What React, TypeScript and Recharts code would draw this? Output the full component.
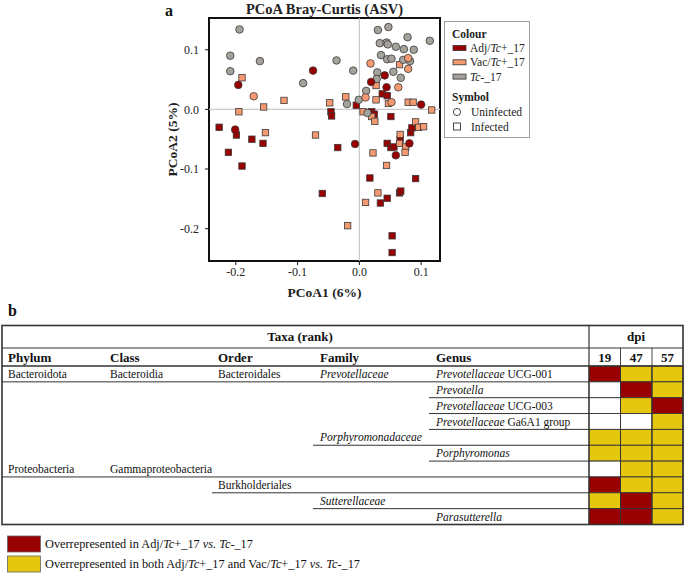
import { ScatterChart, Scatter, XAxis, YAxis, ReferenceLine, ReferenceArea, Label } from "recharts";

const FONT = "'Liberation Serif', 'Times New Roman', serif";

// PCoA coordinates, [PCoA1, PCoA2]
const adjUninfected = [
  [-0.196, 0.041], [-0.075, 0.065], [0.019, 0.046], [0.041, 0.057], [0.044, 0.037],
  [0.1, 0.008], [-0.201, -0.034], [-0.007, -0.058], [0.059, -0.077], [0.081, -0.057],
];
const adjInfected = [
  [-0.227, -0.03], [-0.212, -0.072], [-0.199, -0.043], [-0.174, -0.05], [-0.156, -0.057],
  [-0.19, -0.095], [-0.046, -0.004], [-0.045, -0.011], [-0.035, -0.064], [-0.06, -0.141],
  [-0.005, 0.007], [0.037, 0.026], [0.045, 0.023], [0.02, -0.004], [0.024, -0.008],
  [0.051, -0.012], [0.017, -0.115], [0.034, -0.157], [0.045, -0.149], [0.065, -0.14],
  [0.067, -0.137], [0.053, -0.212], [0.053, -0.24], [0.045, -0.057], [0.051, -0.064],
  [0.056, -0.063], [0.066, -0.05], [0.083, -0.039], [0.085, -0.031], [0.091, -0.116],
];
const vacUninfected = [
  [-0.171, 0.022], [0.018, 0.077], [0.01, 0.02], [0.063, 0.037], [0.052, 0.012],
  [0.079, 0.068], [0.079, 0.086],
];
const vacInfected = [
  [-0.19, 0.053], [-0.195, -0.004], [-0.155, 0.004], [-0.122, 0.015], [-0.152, -0.039],
  [-0.071, -0.043], [-0.048, 0.011], [-0.022, 0.021], [0.006, -0.004], [0.027, 0.04],
  [0.027, 0.016], [0.047, 0.01], [0.065, 0.075], [0.079, 0.012], [0.087, 0.012],
  [0.117, -0.001], [0.02, -0.012], [0.025, -0.02], [0.022, -0.073], [0.044, -0.094],
  [0.03, -0.14], [0.01, -0.156], [-0.019, -0.195], [0.066, -0.042], [0.065, -0.057],
  [0.075, -0.063], [0.074, -0.072], [0.091, -0.021], [0.096, -0.03], [0.104, -0.029],
];
const ctrlUninfected = [
  [-0.194, 0.134], [-0.209, 0.09], [-0.209, 0.064], [-0.161, 0.081], [-0.091, 0.044],
  [-0.037, 0.082], [-0.01, 0.065], [-0.02, 0.009], [-0.001, 0.016], [0.011, 0.031],
  [0.013, -0.006], [0.03, 0.133], [0.047, 0.138], [0.033, 0.111], [0.044, 0.112],
  [0.046, 0.109], [0.059, 0.105], [0.078, 0.121], [0.072, 0.101], [0.088, 0.1],
  [0.114, 0.115], [0.035, 0.091], [0.045, 0.084], [0.052, 0.085], [0.071, 0.083],
  [0.082, 0.081], [0.055, 0.063], [0.029, 0.062], [0.067, 0.053], [0.028, 0.051],
];

const xTicks = [-0.2, -0.1, 0, 0.1];
const yTicks = [-0.2, -0.1, 0, 0.1];
const xDomain = [-0.2434, 0.1305];
const yDomain = [-0.2542, 0.1532];

const ADJ = "#990000";
const VAC = "#f59a70";
const CTRL = "#a5a29c";
const YELLOW = "#e6c70f";

// table b
const phylum = ["Bacteroidota", "", "", "", "", "", "Proteobacteria", "", "", ""];
const taxClass = ["Bacteroidia", "", "", "", "", "", "Gammaproteobacteria", "", "", ""];
const order = ["Bacteroidales", "", "", "", "", "", "", "Burkholderiales", "", ""];
const family = ["Prevotellaceae", "", "", "", "Porphyromonadaceae", "", "", "", "Sutterellaceae", ""];
const genusItalic = ["Prevotellaceae", "Prevotella", "Prevotellaceae", "Prevotellaceae", "", "Porphyromonas", "", "", "", "Parasutterella"];
const genusPlain = [" UCG-001", "", " UCG-003", " Ga6A1 group", "", "", "", "", "", ""];
const underlineFrom = [0, 4, 4, 4, 3, 4, 0, 2, 3, -1]; // rank column where the row rule starts
const dpiLabels = ["19", "47", "57"];
const dpi19 = ["adj", "", "", "", "both", "both", "", "adj", "both", "adj"];
const dpi47 = ["both", "adj", "both", "", "both", "both", "both", "both", "adj", "adj"];
const dpi57 = ["both", "both", "adj", "both", "both", "both", "both", "both", "both", "both"];

const toPts = (arr: number[][]) => arr.map(([x, y]) => ({ x, y }));

const dot = (fill: string) => (p: any) => (
  <circle cx={p.cx} cy={p.cy} r={3.8} fill={fill} stroke="#3a3a3a" strokeWidth={0.8} />
);
const box = (fill: string) => (p: any) => (
  <rect x={p.cx - 3.2} y={p.cy - 3.2} width={6.4} height={6.4} fill={fill} stroke="#3a3a3a" strokeWidth={0.8} />
);

const tickStyle = { fontSize: 12, fill: "#222", fontFamily: FONT };

function PcoaPlot() {
  return (
    <ScatterChart width={685} height={305} margin={{ top: 18, right: 245, bottom: 0, left: 0 }}>
      <XAxis
        type="number"
        dataKey="x"
        domain={xDomain}
        ticks={xTicks}
        allowDataOverflow
        axisLine={false}
        tickLine={{ stroke: "#111" }}
        tickSize={4}
        height={44}
        tick={tickStyle}
        tickFormatter={(v: number) => v.toFixed(1)}
      >
        <Label
          content={(props: any) => {
            const vb = props.viewBox ?? { x: 209, y: 261, width: 230, height: 44 };
            return (
              <text x={vb.x + vb.width / 2} y={vb.y + 36} textAnchor="middle" fontFamily={FONT} fontWeight="bold" fontSize={13.5} fill="#222">
                PCoA1 (6%)
              </text>
            );
          }}
        />
      </XAxis>
      <YAxis
        type="number"
        dataKey="y"
        domain={yDomain}
        ticks={yTicks}
        allowDataOverflow
        axisLine={false}
        tickLine={{ stroke: "#111" }}
        tickSize={4}
        tickMargin={6}
        width={209}
        tick={tickStyle}
        tickFormatter={(v: number) => v.toFixed(1)}
      >
        <Label
          content={(props: any) => {
            const vb = props.viewBox ?? { x: 0, y: 18, width: 209, height: 243 };
            const cx = vb.x + vb.width - 37;
            const cy = vb.y + vb.height / 2;
            return (
              <text x={cx} y={cy} transform={`rotate(-90, ${cx}, ${cy})`} textAnchor="middle" dominantBaseline="central" fontFamily={FONT} fontWeight="bold" fontSize={13.5} fill="#222">
                PCoA2 (5%)
              </text>
            );
          }}
        />
      </YAxis>
      <ReferenceLine x={0} stroke="#c9c9c9" strokeWidth={1.2} />
      <ReferenceLine y={0} stroke="#c9c9c9" strokeWidth={1.2} />
      <Scatter data={toPts(adjInfected)} shape={box(ADJ)} isAnimationActive={false} />
      <Scatter data={toPts(vacInfected)} shape={box(VAC)} isAnimationActive={false} />
      <Scatter data={toPts(ctrlUninfected)} shape={dot(CTRL)} isAnimationActive={false} />
      <Scatter data={toPts(adjUninfected)} shape={dot(ADJ)} isAnimationActive={false} />
      <Scatter data={toPts(vacUninfected)} shape={dot(VAC)} isAnimationActive={false} />
      <ReferenceArea x1={xDomain[0]} x2={xDomain[1]} y1={yDomain[0]} y2={yDomain[1]} fill="none" stroke="#111" strokeWidth={2} />
    </ScatterChart>
  );
}

function PlotLegend() {
  const t = { fontFamily: FONT, fontSize: 11.5, fill: "#222" } as const;
  const items = [
    { fill: ADJ, pre: "Adj/", it: "Tc", post: "+_17" },
    { fill: VAC, pre: "Vac/", it: "Tc", post: "+_17" },
    { fill: CTRL, pre: "", it: "Tc", post: "-_17" },
  ];
  return (
    <svg width={87} height={118} style={{ position: "absolute", left: 444, top: 21 }}>
      <rect x={0.5} y={0.5} width={85} height={116} fill="#fff" stroke="#a0a0a0" />
      <text x={8} y={17} {...t} fontWeight="bold">Colour</text>
      {items.map((d, i) => (
        <g key={i}>
          <rect x={9} y={24.5 + i * 14.3} width={13} height={5} fill={d.fill} stroke="#333" strokeWidth={0.8} />
          <text x={26} y={31 + i * 14.3} {...t}>
            {d.pre}
            <tspan fontStyle="italic">{d.it}</tspan>
            {d.post}
          </text>
        </g>
      ))}
      <text x={8} y={80} {...t} fontWeight="bold">Symbol</text>
      <circle cx={13} cy={91} r={3.6} fill="#fff" stroke="#333" strokeWidth={0.9} />
      <text x={27} y={95} {...t}>Uninfected</text>
      <rect x={9.5} y={102} width={7} height={7} fill="#fff" stroke="#333" strokeWidth={0.9} />
      <text x={27} y={109.5} {...t}>Infected</text>
    </svg>
  );
}

function TaxaTable() {
  const top = 325.5;
  const headMid = 348;
  const bodyTop = 366;
  const rowH = 15.85;
  const n = phylum.length;
  const bottom = bodyTop + n * rowH;
  const left = 2;
  const right = 683;
  const split = 589;
  const cellX = [589, 620.5, 652, 683];
  const colX = [8, 110, 218, 320, 436];
  const ruleX = [left, 104, 212, 313, 429];
  const fillOf = (v: string) => (v === "adj" ? ADJ : v === "both" ? YELLOW : "#fff");
  const dpiCols = [dpi19, dpi47, dpi57];
  const body = { fontFamily: FONT, fontSize: 11.5, fill: "#111" } as const;
  const head = { fontFamily: FONT, fontSize: 13, fontWeight: "bold", fill: "#111" } as const;
  return (
    <svg width={685} height={273} style={{ position: "absolute", left: 0, top: 300 }}>
      <g transform="translate(0,-300)">
        <text x={8} y={316} fontFamily={FONT} fontSize={16} fontWeight="bold" fill="#111">b</text>
        {dpiCols.map((col, c) =>
          col.map((v, r) => (
            <rect key={`${c}-${r}`} x={cellX[c]} y={bodyTop + r * rowH} width={cellX[c + 1] - cellX[c]} height={rowH} fill={fillOf(v)} stroke="#333" strokeWidth={0.9} />
          ))
        )}
        <rect x={left} y={top} width={right - left} height={bottom - top} fill="none" stroke="#333" strokeWidth={1.6} />
        <line x1={left} x2={right} y1={headMid} y2={headMid} stroke="#333" strokeWidth={1.2} />
        <line x1={left} x2={right} y1={bodyTop} y2={bodyTop} stroke="#333" strokeWidth={1.6} />
        <line x1={split} x2={split} y1={top} y2={bottom} stroke="#333" strokeWidth={1.2} />
        {cellX.slice(1, 3).map((x, i) => (
          <line key={i} x1={x} x2={x} y1={headMid} y2={bottom} stroke="#333" strokeWidth={0.9} />
        ))}
        <text x={300} y={341} textAnchor="middle" {...head}>Taxa (rank)</text>
        <text x={(split + right) / 2} y={341} textAnchor="middle" {...head}>dpi</text>
        {["Phylum", "Class", "Order", "Family", "Genus"].map((h, i) => (
          <text key={h} x={colX[i]} y={361.5} {...head}>{h}</text>
        ))}
        {dpiLabels.map((d, i) => (
          <text key={d} x={(cellX[i] + cellX[i + 1]) / 2} y={361.5} textAnchor="middle" {...head}>{d}</text>
        ))}
        {phylum.map((_, r) => {
          const base = bodyTop + r * rowH + 12;
          const yLine = bodyTop + (r + 1) * rowH;
          return (
            <g key={r}>
              {phylum[r] && <text x={colX[0]} y={base} {...body}>{phylum[r]}</text>}
              {taxClass[r] && <text x={colX[1]} y={base} {...body}>{taxClass[r]}</text>}
              {order[r] && <text x={colX[2]} y={base} {...body}>{order[r]}</text>}
              {family[r] && <text x={colX[3]} y={base} {...body} fontStyle="italic">{family[r]}</text>}
              {genusItalic[r] && (
                <text x={colX[4]} y={base} {...body}>
                  <tspan fontStyle="italic">{genusItalic[r]}</tspan>
                  {genusPlain[r]}
                </text>
              )}
              {underlineFrom[r] >= 0 && (
                <line x1={ruleX[underlineFrom[r]]} x2={split} y1={yLine} y2={yLine} stroke="#333" strokeWidth={1} />
              )}
            </g>
          );
        })}
        <rect x={7.5} y={536} width={33} height={16} fill={ADJ} stroke="#666" strokeWidth={0.8} />
        <text x={45} y={548} fontFamily={FONT} fontSize={12.3} fill="#111">
          Overrepresented in Adj/<tspan fontStyle="italic">Tc</tspan>+_17 <tspan fontStyle="italic">vs.</tspan> <tspan fontStyle="italic">Tc</tspan>-_17
        </text>
        <rect x={7.5} y={556} width={33} height={16} fill={YELLOW} stroke="#666" strokeWidth={0.8} />
        <text x={45} y={568} fontFamily={FONT} fontSize={12.3} fill="#111">
          Overrepresented in both Adj/<tspan fontStyle="italic">Tc</tspan>+_17 and Vac/<tspan fontStyle="italic">Tc</tspan>+_17 <tspan fontStyle="italic">vs.</tspan> <tspan fontStyle="italic">Tc</tspan>-_17
        </text>
      </g>
    </svg>
  );
}

export default function App() {
  return (
    <div style={{ position: "absolute", left: 0, top: 0, width: 685, height: 573, background: "#fff", fontFamily: FONT, overflow: "hidden" }}>
      <div style={{ position: "absolute", left: 0, top: 0 }}>
        <PcoaPlot />
      </div>
      <svg width={685} height={22} style={{ position: "absolute", left: 0, top: 0 }}>
        <text x={165} y={16} fontFamily={FONT} fontSize={16} fontWeight="bold" fill="#111">a</text>
        <text x={324.5} y={13.5} textAnchor="middle" fontFamily={FONT} fontSize={14.5} fontWeight="bold" fill="#222">PCoA Bray-Curtis (ASV)</text>
      </svg>
      <PlotLegend />
      <TaxaTable />
    </div>
  );
}
